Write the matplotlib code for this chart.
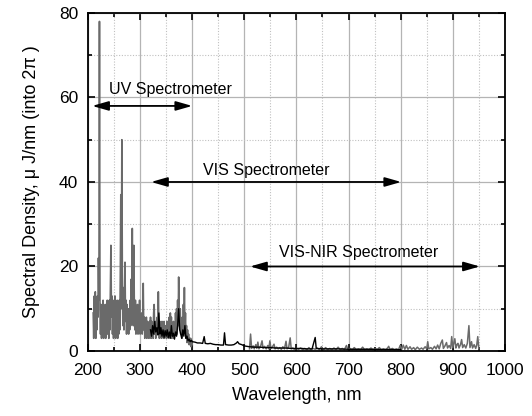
import numpy as np
import matplotlib
matplotlib.use("Agg")
import matplotlib.pyplot as plt
from matplotlib.ticker import MultipleLocator

plt.rcParams['font.family'] = ['Liberation Sans', 'DejaVu Sans']

# UV spectrometer, 1 nm steps from 210 to 400 nm (gray)
uv_x = np.arange(210, 401)
uv_y = [9, 3, 13, 4, 14, 3, 12, 5, 13, 8,
        22, 12, 78, 10, 4, 11, 3, 10, 4, 12,
        3, 9, 4, 11, 3, 10, 5, 12, 4, 9,
        3, 12, 5, 15, 25, 8, 13, 4, 12, 3,
        11, 4, 13, 3, 10, 5, 12, 3, 9, 4,
        12, 5, 18, 37, 10, 50, 14, 6, 15, 5,
        13, 21, 7, 12, 4, 11, 5, 10, 4, 9,
        5, 12, 6, 17, 8, 29, 10, 6, 25, 9,
        5, 12, 4, 10, 5, 11, 4, 9, 5, 12,
        4, 8, 5, 9, 4, 7, 16, 5, 8, 3,
        7, 4, 8, 3, 7, 4, 6, 3, 7, 4,
        8, 3, 7, 4, 6, 3, 9, 11, 4, 7,
        3, 6, 4, 8, 5, 14, 6, 3, 7, 4,
        6, 3, 7, 4, 6, 3, 7, 3, 6, 4,
        5, 3, 7, 4, 6, 3, 8, 4, 9, 5,
        8, 3, 6, 4, 7, 3, 6, 4, 9, 5,
        10, 4, 12, 6, 17.5, 8, 5, 10, 4, 7,
        3, 8, 4, 11, 6, 15, 5, 9, 3, 6,
        2, 5, 2, 4, 1.5, 3, 1.5, 3, 1, 2.5,
        1.5]

# VIS spectrometer (black)
vis_x = [320, 322, 324, 326, 328, 330, 332, 334, 336, 338,
         340, 342, 344, 346, 348, 350, 352, 354, 356, 358,
         360, 362, 364, 366, 368, 370, 372, 374, 376, 378,
         380, 382, 384, 386, 388, 390, 392, 394, 396, 398,
         400, 405, 410, 415, 420, 423, 425, 430, 435, 440,
         445, 450, 455, 460, 462, 464, 470, 475, 480, 485,
         487, 490, 495, 500, 510, 520, 530, 540, 550, 560,
         570, 580, 590, 600, 610, 620, 630, 636, 638, 650,
         660, 680, 700, 720, 740, 760, 780, 800]
vis_y = [5, 3.5, 6, 4, 7, 4.5, 5.5, 3.8, 9, 4,
         5.5, 3.5, 5, 3.2, 4.8, 3.5, 5, 3.2, 4.5, 3,
         6, 3.5, 4.2, 2.8, 4.5, 3.5, 6, 10, 5, 4,
         3, 5, 3.5, 6, 3, 3.5, 2.4, 2.8, 2.2, 2.5,
         2.2, 2.1, 1.9, 1.9, 1.8, 3.4, 1.8, 1.7, 1.8, 1.6,
         1.5, 1.5, 1.4, 1.4, 4.3, 1.5, 1.4, 1.4, 1.5, 1.9,
         2.2, 1.7, 1.5, 1.2, 1.0, 0.9, 0.9, 0.8, 0.8, 0.7,
         0.7, 0.7, 0.6, 0.6, 0.6, 0.5, 0.5, 3.2, 0.6, 0.5,
         0.5, 0.5, 0.4, 0.4, 0.4, 0.35, 0.35, 0.3]

# VIS-NIR spectrometer (gray)
nir_x = [510, 512, 514, 517, 519, 522, 524, 526, 528, 531,
         534, 536, 539, 542, 545, 547, 549, 551, 554, 557,
         559, 562, 565, 568, 571, 574, 577, 580, 582, 585,
         588, 590, 593, 596, 600, 604, 608, 612, 616, 620,
         624, 628, 632, 636, 640, 644, 648, 652, 656, 660,
         664, 668, 672, 676, 680, 684, 688, 692, 696, 699,
         703, 707, 711, 715, 719, 723, 727, 731, 735, 739,
         743, 747, 751, 755, 759, 763, 767, 771, 775, 777,
         780, 784, 788, 792, 796, 799, 802, 805, 808, 811,
         814, 818, 821, 825, 828, 832, 836, 840, 843, 847,
         850, 852, 854, 858, 861, 865, 868, 871, 874, 877,
         880, 882, 885, 888, 890, 893, 896, 898, 900, 902,
         904, 906, 908, 910, 912, 915, 917, 919, 922, 925,
         928, 931, 933, 936, 938, 941, 944, 946, 948, 950]
nir_y = [0.5, 4.0, 0.6, 1.2, 0.5, 1.5, 0.6, 2.1, 0.5, 1.0,
         2.4, 0.6, 1.1, 0.5, 1.3, 0.5, 2.4, 0.6, 1.0, 1.6,
         0.5, 0.9, 0.5, 0.8, 0.4, 1.0, 0.5, 2.3, 0.5, 0.8,
         3.1, 0.5, 0.7, 0.4, 0.6, 0.4, 0.7, 0.3, 0.6, 0.3,
         0.8, 0.3, 0.6, 0.4, 0.7, 0.3, 1.0, 0.3, 0.8, 0.3,
         0.6, 0.3, 0.7, 0.3, 0.9, 0.3, 0.6, 0.3, 1.3, 0.3,
         0.6, 0.3, 0.8, 0.3, 0.5, 0.3, 0.9, 0.3, 0.5, 0.3,
         0.7, 0.3, 0.6, 0.3, 0.8, 0.3, 0.5, 0.3, 0.7, 1.1,
         0.3, 0.6, 0.3, 0.5, 0.3, 1.3, 0.4, 1.4, 0.4, 1.3,
         0.4, 1.0, 0.4, 0.8, 0.3, 0.9, 0.4, 0.7, 0.4, 1.0,
         0.5, 2.2, 0.5, 0.8, 0.4, 1.1, 0.5, 1.4, 0.5, 1.8,
         2.6, 0.6, 1.2, 2.0, 0.7, 1.3, 0.6, 3.4, 0.8, 1.8,
         2.9, 0.7, 1.5, 1.8, 0.7, 1.6, 2.7, 0.8, 1.5, 0.7,
         1.8, 6.0, 0.8, 2.2, 0.7, 1.5, 0.6, 1.4, 3.4, 0.5]

# spectrometer ranges: (label, start, end, arrow y, text x, text y)
ranges = [("UV Spectrometer", 208, 400, 58, 241, 62),
          ("VIS Spectrometer", 321, 801, 40, 421, 42.6),
          ("VIS-NIR Spectrometer", 511, 952, 20, 566, 23.3)]

fig = plt.figure(figsize=(5.32, 4.16), dpi=100)
ax = fig.add_axes([0.1654, 0.1563, 0.7836, 0.8125])

gray = '#6a6a6a'
ax.plot(uv_x, uv_y, color=gray, lw=1.2)
ax.plot(nir_x, nir_y, color=gray, lw=1.1)
ax.plot(vis_x, vis_y, color='black', lw=1.0)

for label, x0, x1, ya, tx, ty in ranges:
    ax.annotate('', xy=(x0, ya), xytext=(x1, ya),
                arrowprops=dict(arrowstyle='<|-|>,head_length=0.7,head_width=0.2',
                                color='black', lw=1.3,
                                mutation_scale=14, shrinkA=0, shrinkB=0))
    ax.text(tx, ty, label, fontsize=11.5, va='center', ha='left')

ax.set_xlim(200, 1000)
ax.set_ylim(0, 80)
ax.xaxis.set_major_locator(MultipleLocator(100))
ax.xaxis.set_minor_locator(MultipleLocator(50))
ax.yaxis.set_major_locator(MultipleLocator(20))
ax.yaxis.set_minor_locator(MultipleLocator(10))
ax.grid(True, which='major', color='#b4b4b4', lw=0.9)
ax.grid(True, which='minor', color='#c0c0c0', lw=0.8, ls=(0, (1, 1.5)))
ax.set_axisbelow(True)
ax.tick_params(which='both', direction='in', top=True, right=True,
               labelsize=12.5, width=1.2)
ax.tick_params(which='major', length=5)
ax.tick_params(which='minor', length=3)
ax.tick_params(axis='x', which='both', pad=9)
ax.tick_params(axis='y', which='both', pad=7)
for s in ax.spines.values():
    s.set_linewidth(1.3)

ax.set_xlabel('Wavelength, nm', fontsize=13, labelpad=6)
ax.set_ylabel('Spectral Density, \u03bc J/nm (into 2\u03c0 )', fontsize=13, labelpad=14)

fig.savefig('out.png', dpi=100)
